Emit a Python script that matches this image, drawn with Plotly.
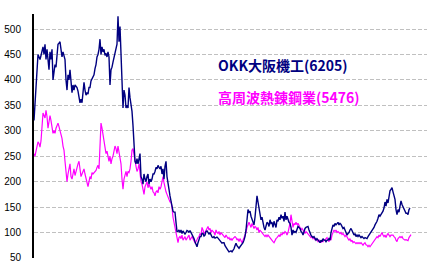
import plotly.graph_objects as go

okk = [320,350,390,420,450,445,440,448,455,465,450,470,440,460,440,420,455,440,460,400,
415,430,425,460,470,472,475,460,445,455,448,440,400,380,410,400,420,385,375,390,
380,390,388,385,378,362,355,362,355,375,395,380,370,375,372,385,385,398,402,405,
410,422,430,445,450,460,480,450,465,455,460,448,452,445,455,445,390,420,425,435,
445,455,460,470,525,475,505,455,380,345,380,370,345,350,345,385,365,350,338,310,
270,240,235,245,235,250,255,210,205,195,215,205,200,210,215,195,205,200,205,215,
215,220,228,225,232,228,225,230,215,225,205,230,240,210,200,185,172,160,150,142,
140,140,120,102,102,105,100,105,98,103,100,97,100,104,103,100,104,100,96,94,
88,82,76,72,80,87,92,92,98,98,93,95,102,103,98,97,100,95,91,90,
92,89,90,91,89,87,84,81,79,80,80,74,70,67,65,62,63,64,62,64,
68,74,79,74,70,69,72,74,76,80,85,92,105,130,145,140,142,132,127,120,
115,130,155,172,160,145,140,125,130,115,110,105,115,120,118,112,125,118,120,110,
122,115,110,125,122,130,125,135,128,132,122,140,125,132,125,120,118,110,95,105,
100,102,100,105,112,110,108,102,100,95,102,108,110,112,112,105,98,95,92,90,
92,88,85,88,85,82,80,85,82,88,85,85,82,85,85,88,85,100,110,115,
112,118,115,118,120,115,118,116,112,108,110,105,100,95,98,100,105,108,104,100,
95,98,92,95,92,95,92,90,92,90,88,90,88,88,92,95,98,100,105,108,
110,115,118,122,128,135,132,135,140,142,148,160,152,165,158,175,182,185,188,180,
170,165,145,135,145,140,152,162,155,150,145,140,138,138,135,145,148]

koshuha = [255,250,260,270,278,275,268,280,300,335,330,325,340,328,305,318,330,320,300,295,
300,295,305,310,315,308,300,295,285,270,262,240,210,200,215,225,235,210,205,215,
225,212,220,232,235,240,225,210,215,220,225,215,205,198,190,200,210,205,218,215,
218,220,222,228,232,225,260,315,305,290,280,265,255,260,245,240,250,235,245,250,
260,270,265,255,270,260,245,235,205,185,205,215,220,210,220,218,225,240,262,265,
250,240,230,220,225,235,215,200,195,185,175,190,195,200,188,195,190,185,190,180,
178,172,180,182,178,190,185,190,200,210,198,185,180,175,170,165,160,160,150,130,
120,110,100,85,80,90,92,88,95,85,90,92,85,88,90,95,85,88,92,88,
82,80,82,88,90,92,98,95,110,105,98,100,105,110,112,105,108,100,105,102,
100,95,105,100,98,102,95,100,98,95,92,90,95,92,88,90,85,88,85,88,
90,92,90,85,88,82,88,85,80,85,90,92,100,110,115,120,115,110,118,112,
108,112,110,105,110,100,105,102,100,98,95,92,95,92,95,92,90,88,85,82,
80,85,88,90,92,95,92,98,95,100,98,102,100,95,100,108,118,135,115,110,
118,115,120,115,118,112,110,105,108,105,100,98,102,100,98,95,92,90,92,88,
90,85,88,85,82,85,82,80,85,82,85,85,88,90,85,82,88,85,95,100,
105,102,105,100,102,100,98,100,96,98,95,92,95,90,88,85,88,82,85,80,
82,80,78,80,78,80,78,80,78,75,78,80,76,75,72,75,72,75,78,80,
82,85,88,92,90,95,92,98,100,95,92,95,90,95,98,95,92,95,95,95,
92,90,85,82,88,90,92,90,92,88,86,85,86,85,84,90,94,96]

okk_label = "OKK大阪機工(6205)"
koshuha_label = "高周波熱錬鋼業(5476)"
y_ticks = [50, 100, 150, 200, 250, 300, 350, 400, 450, 500]

fig = go.Figure()
fig.add_trace(go.Scatter(x=list(range(len(koshuha))), y=koshuha, mode="lines",
                         line=dict(color="#ff00ff", width=1.2), name=koshuha_label))
fig.add_trace(go.Scatter(x=list(range(len(okk))), y=okk, mode="lines",
                         line=dict(color="#000080", width=1.4), name=okk_label))

fig.add_annotation(text=f"<b>{okk_label}</b>", xref="paper", yref="paper", x=0.463, y=0.791,
                   xanchor="left", yanchor="middle", showarrow=False,
                   font=dict(family="Noto Sans CJK JP", size=14, color="#000080"))
fig.add_annotation(text=f"<b>{koshuha_label}</b>", xref="paper", yref="paper", x=0.463, y=0.66,
                   xanchor="left", yanchor="middle", showarrow=False,
                   font=dict(family="Noto Sans CJK JP", size=14, color="#ff00ff"))

fig.update_layout(
    width=432, height=272, margin=dict(l=34, r=5, t=14, b=14),
    paper_bgcolor="white", plot_bgcolor="white", showlegend=False,
    xaxis=dict(range=[0, 393], showgrid=False, showticklabels=False, zeroline=False,
               showline=False, ticks=""),
    yaxis=dict(range=[49.9, 529.5], tickvals=y_ticks, showgrid=True, gridcolor="#c0c0c0",
               griddash="4px,2px", gridwidth=1, zeroline=False, showline=True, linecolor="black",
               linewidth=2, ticks="", ticklabelstandoff=9,
               tickfont=dict(family="Liberation Sans", size=10, color="black")),
)

fig.write_html("out.html")
